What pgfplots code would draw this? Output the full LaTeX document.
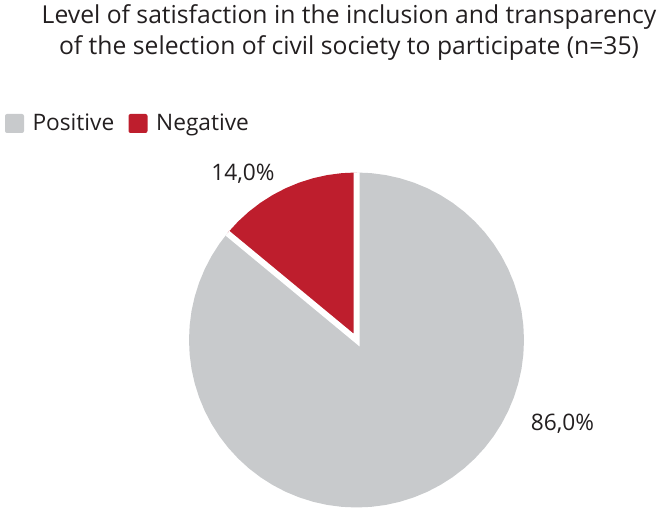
\documentclass[border=0pt]{standalone}
\usepackage{pgfplots}
\pgfplotsset{compat=1.18}
\usepgfplotslibrary{polar}
\usepackage{fontspec}
\setmainfont{Open Sans}
\definecolor{pgray}{RGB}{200,202,204}
\definecolor{pred}{RGB}{190,30,45}
\definecolor{ptext}{RGB}{35,31,32}
\begin{document}
\begin{tikzpicture}[x=1pt,y=1pt]
\path[use as bounding box] (0,0) rectangle (657,511);
\node[anchor=base,text=ptext,font=\fontsize{24.7}{30}\selectfont,inner sep=0pt] at (349,487.7) {Level of satisfaction in the inclusion and transparency};
\node[anchor=base,text=ptext,font=\fontsize{24.7}{30}\selectfont,inner sep=0pt] at (349,456.5) {of the selection of civil society to participate (n=35)};
% legend
\fill[pgray, rounded corners=2pt] (5,378) rectangle (24,397);
\node[anchor=base west,text=ptext,font=\fontsize{22.7}{27}\selectfont,inner sep=0pt] at (32.3,380.5) {Positive};
\fill[pred, rounded corners=2pt] (128.5,378) rectangle (147.5,397);
\node[anchor=base west,text=ptext,font=\fontsize{22.7}{27}\selectfont,inner sep=0pt] at (156,380.5) {Negative};
\begin{polaraxis}[
  at={(356.5pt,171pt)}, anchor=center,
  width=335pt, height=335pt, scale only axis,
  xmin=0, xmax=360, ymin=0, ymax=1,
  hide axis, clip=false,
]
\addplot[fill=pgray, draw=none] coordinates {
(0,0) (140.4,1) (145,1) (150,1) (155,1) (160,1) (165,1) (170,1) (175,1) (180,1)
(185,1) (190,1) (195,1) (200,1) (205,1) (210,1) (215,1) (220,1) (225,1) (230,1)
(235,1) (240,1) (245,1) (250,1) (255,1) (260,1) (265,1) (270,1) (275,1) (280,1)
(285,1) (290,1) (295,1) (300,1) (305,1) (310,1) (315,1) (320,1) (325,1) (330,1)
(335,1) (340,1) (345,1) (350,1) (355,1) (360,1) (5,1) (10,1) (15,1) (20,1)
(25,1) (30,1) (35,1) (40,1) (45,1) (50,1) (55,1) (60,1) (65,1) (70,1)
(75,1) (80,1) (85,1) (90,1) (0,0)};
\addplot[fill=pred, draw=none] coordinates {
(0,0) (90,1) (95,1) (100,1) (105,1) (110,1) (115,1) (120,1) (125,1) (130,1)
(135,1) (140,1) (140.4,1) (0,0)};
\addplot[white, line width=6pt, miter limit=20] coordinates {(90,1) (0,0) (140.4,1)};
\node[anchor=base, text=ptext, font=\fontsize{22.7}{27}\selectfont, inner sep=0pt] at (axis cs:125.5,1.168) {14,0\%};
\node[anchor=base, text=ptext, font=\fontsize{22.7}{27}\selectfont, inner sep=0pt] at (axis cs:336.24,1.344) {86,0\%};
\end{polaraxis}
\end{tikzpicture}
\end{document}
